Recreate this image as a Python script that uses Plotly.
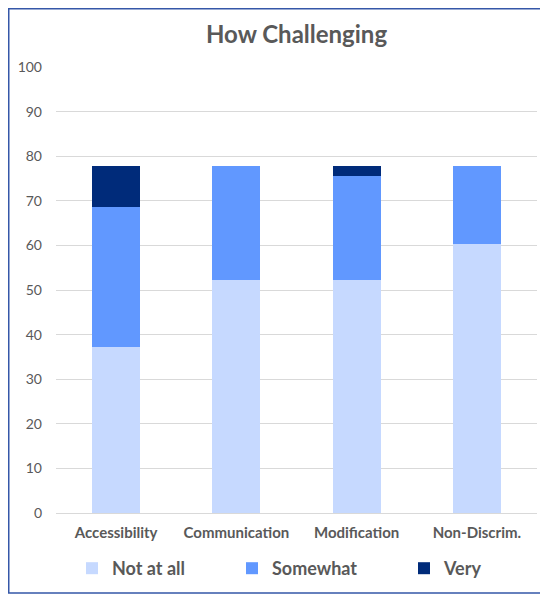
import plotly.graph_objects as go

categories = ["Accessibility", "Communication", "Modification", "Non-Discrim."]
not_at_all = [37.2, 52.3, 52.3, 60.4]
somewhat = [31.5, 25.6, 23.3, 17.5]
very = [9.2, 0, 2.3, 0]
series_names = ["Not at all", "Somewhat", "Very"]
colors = ["#C6D9FF", "#6198FF", "#002B7A"]

# The page body adds an 8px margin, so the figure is sized to fill the rest
OFF = 8
WIN_W, WIN_H = 548, 595
W, H = WIN_W - OFF, WIN_H - OFF

# plot area in window pixels
pl, pr, pt, pb = 56, 537, 67, 513
ml, mt = pl - OFF, pt - OFF
mr, mb = W - (pr - OFF), H - (pb - OFF)
pw, ph = pr - pl, pb - pt

def px_to_paper_x(px):
    return (px - pl) / pw

def px_to_paper_y(py):
    return (pb - py) / ph

legend_ids = ["legend", "legend2", "legend3"]
legend_sq_centers = [95.5, 255.5, 427.5]

fig = go.Figure()
for name, vals, col, lid in zip(series_names, [not_at_all, somewhat, very], colors, legend_ids):
    fig.add_trace(go.Bar(
        x=categories, y=vals, name="<b>" + name + "</b>",
        marker=dict(color=col, line=dict(width=0)),
        legend=lid,
    ))

legend_common = dict(
    orientation="h",
    yanchor="middle",
    y=px_to_paper_y(568.5),
    xanchor="left",
    bgcolor="rgba(0,0,0,0)",
    font=dict(size=18, color="#595959", family="Lato"),
    itemclick=False,
)

fig.update_layout(
    width=W, height=H,
    margin=dict(l=ml, r=mr, t=mt, b=mb, autoexpand=False),
    barmode="stack",
    bargap=0.6,
    plot_bgcolor="white",
    paper_bgcolor="white",
    font=dict(family="Lato", color="#595959", size=14),
    title=dict(
        text="<b>How Challenging</b>",
        x=0.5, xanchor="center", xref="paper",
        y=1 - (35 - OFF) / H, yanchor="middle", yref="container",
        font=dict(size=24, color="#595959", family="Lato"),
    ),
    xaxis=dict(
        showgrid=False, showline=True, linecolor="#D9D9D9", linewidth=1,
        ticks="", tickfont=dict(size=15, color="#595959", family="Lato"),
        ticklabelstandoff=6, automargin=False,
        tickprefix="<b>", ticksuffix="</b>",
    ),
    yaxis=dict(
        range=[0, 100], dtick=10, showgrid=True, gridcolor="#D9D9D9",
        gridwidth=1, zeroline=False, ticks="", automargin=False,
        tickfont=dict(size=14, color="#595959", family="Lato"),
        ticklabelstandoff=13,
    ),
    showlegend=True,
)

for lid, cx in zip(legend_ids, legend_sq_centers):
    fig.update_layout({lid: dict(legend_common, x=px_to_paper_x(cx - 3 - 20.5))})

# outer chart border (right edge lies beyond the window)
fig.add_shape(
    type="rect", xref="paper", yref="paper",
    x0=px_to_paper_x(OFF + 0.75), x1=px_to_paper_x(WIN_W + 30),
    y0=px_to_paper_y(593), y1=px_to_paper_y(OFF + 0.75),
    line=dict(color="#3557A8", width=1.5), fillcolor="rgba(0,0,0,0)",
    layer="above",
)

fig.write_html("out.html")
